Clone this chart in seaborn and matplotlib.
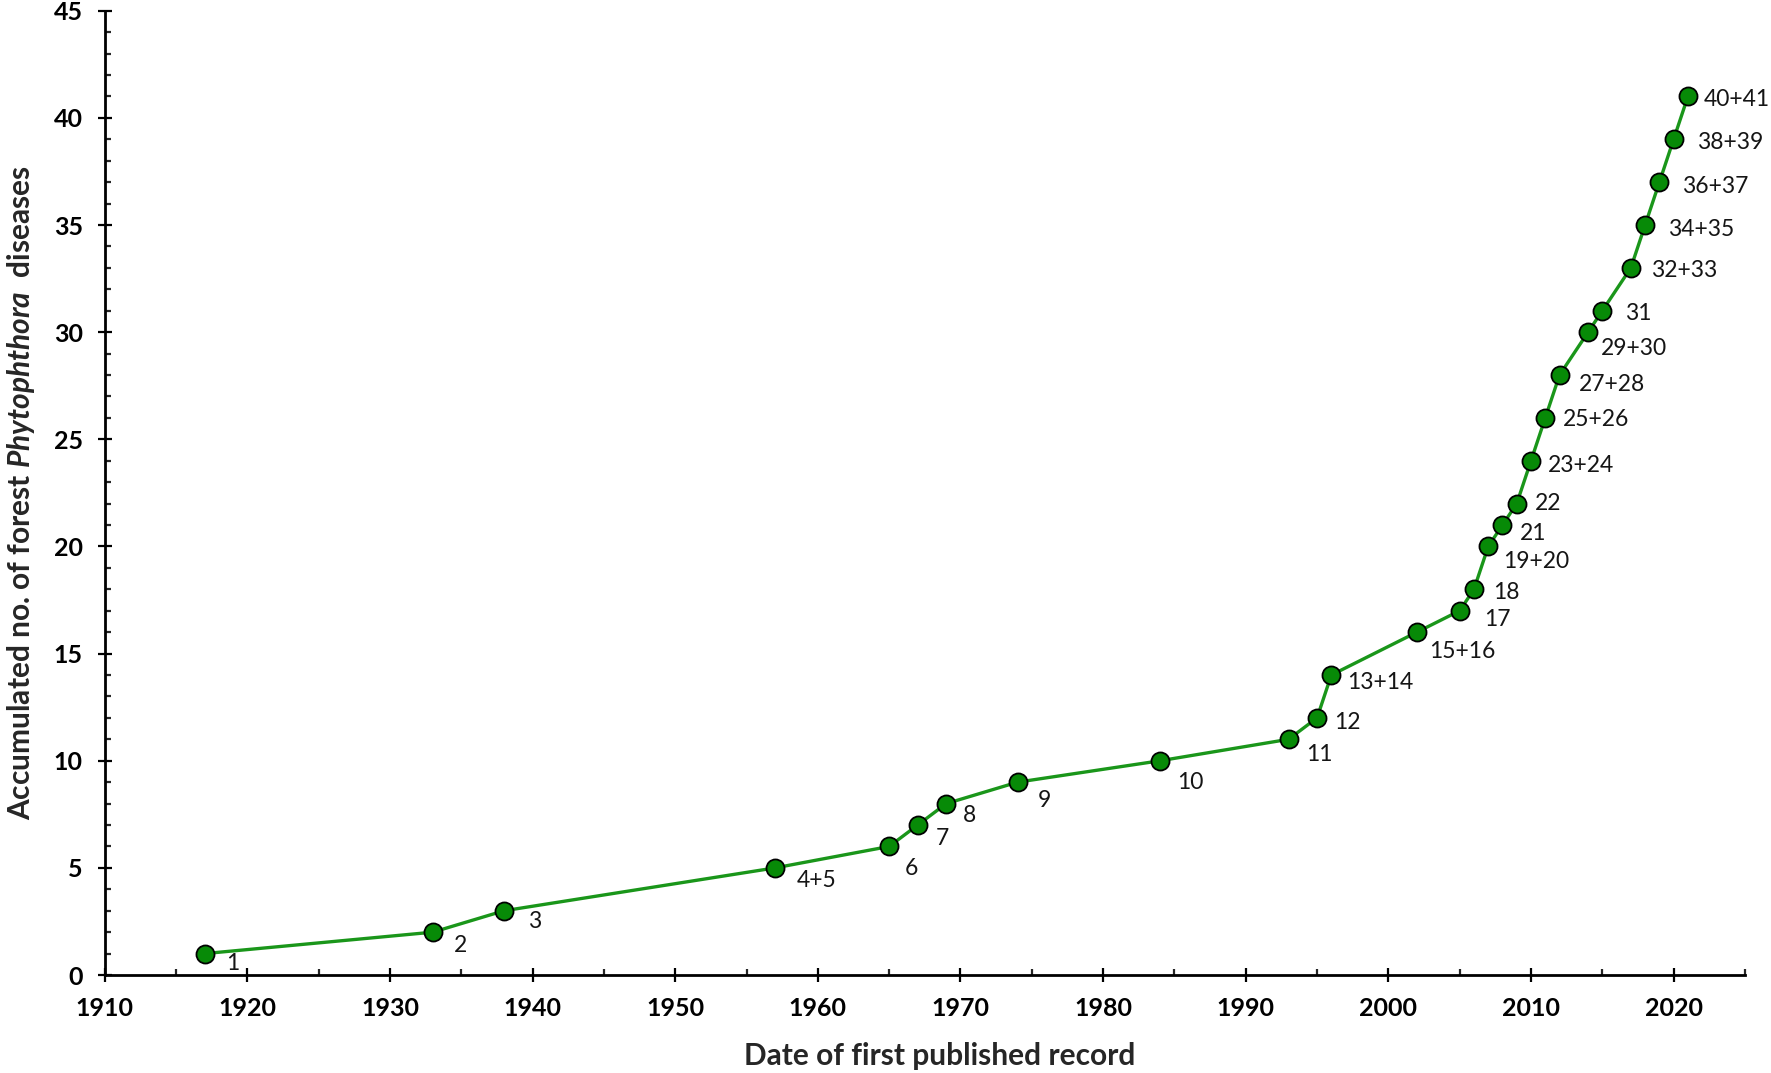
import numpy as np
import pandas as pd
import matplotlib
matplotlib.use('Agg')
import matplotlib.pyplot as plt
from matplotlib.ticker import MultipleLocator
import seaborn as sns

years = [1917, 1933, 1938, 1957, 1965, 1967, 1969, 1974, 1984, 1993, 1995, 1996, 2002,
         2005, 2006, 2007, 2008, 2009, 2010, 2011, 2012, 2014, 2015, 2017, 2018, 2019,
         2020, 2021]
counts = [1, 2, 3, 5, 6, 7, 8, 9, 10, 11, 12, 14, 16, 17, 18, 20, 21, 22, 24, 26, 28,
          30, 31, 33, 35, 37, 39, 41]
point_labels = ['1', '2', '3', '4+5', '6', '7', '8', '9', '10', '11', '12', '13+14',
                '15+16', '17', '18', '19+20', '21', '22', '23+24', '25+26', '27+28',
                '29+30', '31', '32+33', '34+35', '36+37', '38+39', '40+41']

# where each label sits relative to its marker (pixels right, pixels down)
label_offsets = [(22, 10), (21, 13), (24, 11), (22, 13), (16, 22), (18, 13), (17, 12),
                 (20, 18), (17, 22), (18, 15), (17, 5), (16, 7), (12, 19), (24, 9),
                 (19, 3), (15, 15), (17, 8), (18, 0), (17, 5), (18, 2), (19, 9),
                 (13, 16), (23, 3), (20, 3), (23, 4), (23, 4), (23, 3), (16, 3)]

sns.set_style('ticks')
plt.rcParams['font.family'] = ['Lato', 'DejaVu Sans']
plt.rcParams['mathtext.fontset'] = 'custom'
plt.rcParams['mathtext.bfit'] = 'Lato:italic:bold'

df = pd.DataFrame({'Year': years, 'Diseases': counts})

fig = plt.figure(figsize=(17.71, 10.73), dpi=100)
ax = fig.add_axes([0.0591, 0.0913, 0.9262, 0.8987])

sns.lineplot(data=df, x='Year', y='Diseases', ax=ax, color='#1a961a', linewidth=2.4,
             marker='o', markersize=13, markerfacecolor='#078a07',
             markeredgecolor='black', markeredgewidth=1.3, clip_on=False, zorder=3)

for x, y, lab, (dx, dy) in zip(years, counts, point_labels, label_offsets):
    ax.annotate(lab, (x, y), xytext=(dx, -dy), textcoords='offset pixels',
                ha='left', va='center', fontsize=16.5, color='#151515')

ax.set_xlim(1910, 2025)
ax.set_ylim(0, 45)
ax.xaxis.set_major_locator(MultipleLocator(10))
ax.xaxis.set_minor_locator(MultipleLocator(5))
ax.yaxis.set_major_locator(MultipleLocator(5))
ax.yaxis.set_minor_locator(MultipleLocator(1))
ax.tick_params(which='major', direction='inout', length=9.5, width=1.6, pad=11,
               labelsize=18, colors='black')
ax.tick_params(which='minor', direction='in', length=4.5, width=1.6)
for t in ax.get_xticklabels() + ax.get_yticklabels():
    t.set_fontweight('bold')

sns.despine(ax=ax)
for side in ['left', 'bottom']:
    ax.spines[side].set_linewidth(2)
    ax.spines[side].set_color('black')

ax.set_xlabel('Date of first published record', fontsize=21.5, fontweight='bold', labelpad=16)
ax.xaxis.label.set_x(0.509)
ax.set_ylabel(r'Accumulated no. of forest $\mathbfit{Phytophthora}$  diseases',
              fontsize=21.5, fontweight='bold', labelpad=12)

fig.savefig('out.png', dpi=100)
